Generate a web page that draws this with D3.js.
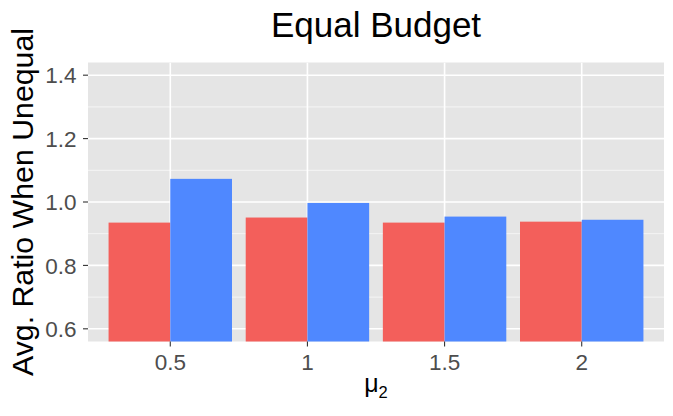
<!DOCTYPE html>
<html>
<head>
<meta charset="utf-8">
<script src="https://cdn.jsdelivr.net/npm/d3@7/dist/d3.min.js"></script>
<style>
  html, body { margin: 0; padding: 0; background: #fff; }
  text { font-family: "Liberation Sans", Arial, sans-serif; }
</style>
</head>
<body>
<svg id="chart" width="673" height="416"></svg>
<script>
const categories = ["0.5", "1", "1.5", "2"];
const seriesNames = ["A", "B"];
const seriesA = [0.935, 0.951, 0.935, 0.938];
const seriesB = [1.073, 0.997, 0.954, 0.944];
const yTicks = [0.6, 0.8, 1.0, 1.2, 1.4];
const yMinor = [0.7, 0.9, 1.1, 1.3];
const colors = ["#F35F5B", "#4F88FF"];

const W = 673, H = 416;
const m = { left: 88, right: 664, top: 62.5, bottom: 341.5 };
const svg = d3.select("#chart");

const x = d3.scalePoint().domain(categories).range([m.left, m.right]).padding(0.6);
const y = d3.scaleLinear().domain([0.56, 1.44]).range([m.bottom, m.top]);
const step = x.step();
const bw = step * 0.45;

// panel
svg.append("rect").attr("x", m.left).attr("y", m.top)
  .attr("width", m.right - m.left).attr("height", m.bottom - m.top)
  .attr("fill", "#E5E5E5");

const defs = svg.append("defs");
defs.append("clipPath").attr("id", "clip").append("rect")
  .attr("x", m.left).attr("y", m.top).attr("width", m.right - m.left).attr("height", m.bottom - m.top);

const g = svg.append("g").attr("clip-path", "url(#clip)");
// minor grid
g.selectAll(".minor").data(yMinor).enter().append("line")
  .attr("x1", m.left).attr("x2", m.right)
  .attr("y1", d => y(d)).attr("y2", d => y(d))
  .attr("stroke", "#F7F7F7").attr("stroke-width", 0.9);
// major grid
g.selectAll(".majory").data(yTicks).enter().append("line")
  .attr("x1", m.left).attr("x2", m.right)
  .attr("y1", d => y(d)).attr("y2", d => y(d))
  .attr("stroke", "#FFFFFF").attr("stroke-width", 1.6);
g.selectAll(".majorx").data(categories).enter().append("line")
  .attr("y1", m.top).attr("y2", m.bottom)
  .attr("x1", d => x(d)).attr("x2", d => x(d))
  .attr("stroke", "#FFFFFF").attr("stroke-width", 1.6);

// bars
const bars = [];
categories.forEach((c, i) => {
  bars.push({ c, s: 0, v: seriesA[i] });
  bars.push({ c, s: 1, v: seriesB[i] });
});
g.selectAll(".bar").data(bars).enter().append("rect")
  .attr("x", d => x(d.c) - bw + d.s * bw)
  .attr("width", bw)
  .attr("y", d => y(d.v))
  .attr("height", d => y(0) - y(d.v))
  .attr("fill", d => colors[d.s]);

// y axis
const yAxis = svg.append("g");
yTicks.forEach(t => {
  yAxis.append("line").attr("x1", m.left - 5).attr("x2", m.left)
    .attr("y1", y(t)).attr("y2", y(t)).attr("stroke", "#333333").attr("stroke-width", 1.1);
  yAxis.append("text").attr("x", m.left - 11.5).attr("y", y(t)).attr("dy", "0.36em")
    .attr("text-anchor", "end").attr("font-size", 22.5).attr("fill", "#4D4D4D")
    .text(d3.format(".1f")(t));
});
// x axis
const xAxis = svg.append("g");
categories.forEach(c => {
  xAxis.append("line").attr("x1", x(c)).attr("x2", x(c))
    .attr("y1", m.bottom).attr("y2", m.bottom + 5).attr("stroke", "#333333").attr("stroke-width", 1.1);
  xAxis.append("text").attr("x", x(c)).attr("y", 369.5)
    .attr("text-anchor", "middle").attr("font-size", 22.5).attr("fill", "#4D4D4D")
    .text(c);
});

// titles
svg.append("text").attr("x", (m.left + m.right) / 2).attr("y", 36.5)
  .attr("text-anchor", "middle").attr("font-size", 35).attr("fill", "#000")
  .text("Equal Budget");

svg.append("text").attr("transform", `translate(33,${(m.top + m.bottom) / 2}) rotate(-90)`)
  .attr("text-anchor", "middle").attr("font-size", 30.3).attr("fill", "#000")
  .text("Avg. Ratio When Unequal");

const xt = svg.append("text").attr("x", (m.left + m.right) / 2).attr("y", 392)
  .attr("text-anchor", "middle").attr("font-size", 25).attr("fill", "#000");
xt.append("tspan").text("μ");
xt.append("tspan").attr("font-size", 16.5).attr("dy", 5.5).text("2");
</script>
</body>
</html>
